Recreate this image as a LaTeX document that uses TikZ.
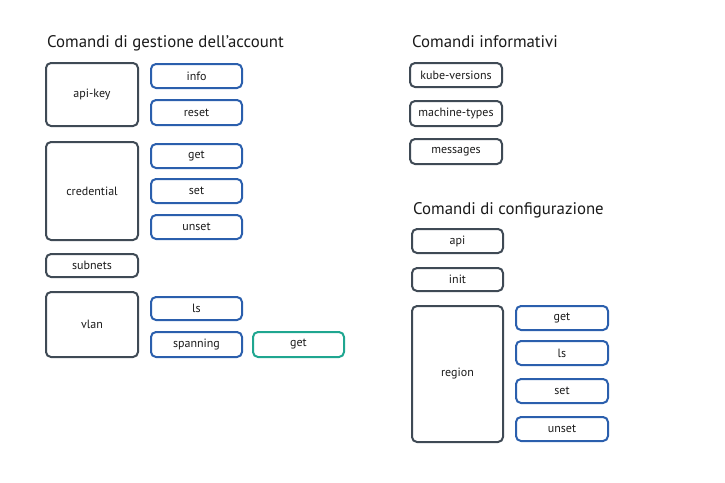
\documentclass[tikz,border=0pt]{standalone}
\usepackage{fontspec}
\setmainfont{PT Sans}
\definecolor{dk}{HTML}{3F4A55}
\definecolor{bl}{HTML}{2B5FAD}
\definecolor{tl}{HTML}{1FA690}
\definecolor{tx}{HTML}{1A1A1A}
\tikzset{
  base/.style={rounded corners=5pt, line width=2pt, inner sep=0pt, text=tx, font=\fontsize{12}{14}\selectfont},
  dkbox/.style={base, draw=dk},
  blbox/.style={base, draw=bl},
  tlbox/.style={base, draw=tl},
  ttl/.style={anchor=base west, inner sep=0pt, text=tx, font=\fontsize{16.8}{20}\selectfont}
}
\newcommand{\bx}[7][dkbox]{%
  \node[#1, minimum width={#5-#3-2}, minimum height={#6-#4-2}] (#2) at ({(#3+#5)/2},{(#4+#6)/2}) {#7};}
\begin{document}
\begin{tikzpicture}[x=1pt,y=-1pt]
\useasboundingbox (0,0) rectangle (725,482);
\node[ttl] (t1) at (47,47) {Comandi di gestione dell’account};
\node[ttl] (t2) at (412,47) {Comandi informativi};
\node[ttl] (t3) at (413,214) {Comandi di configurazione};
\bx{apikey}{45}{62}{139}{127}{api-key}
\bx[blbox]{info}{150}{63}{243}{89}{info}
\bx[blbox]{reset}{150}{99}{243}{126}{reset}
\bx{cred}{45}{141}{139}{241}{credential}
\bx[blbox]{cget}{150}{143}{243}{169}{get}
\bx[blbox]{cset}{150}{178}{243}{204}{set}
\bx[blbox]{cunset}{150}{214}{243}{240}{unset}
\bx{subnets}{45}{253}{139}{278}{subnets}
\bx{vlan}{45}{291}{139}{358}{vlan}
\bx[blbox]{vls}{150}{296}{243}{321}{ls}
\bx[blbox]{vspan}{150}{331}{243}{358}{spanning}
\bx[tlbox]{vget}{252}{331}{345}{358}{get}
\bx{kube}{409}{62}{503}{88}{kube-versions}
\bx{mach}{409}{100}{503}{127}{machine-types}
\bx{msg}{409}{138}{503}{165}{messages}
\bx{api}{411}{228}{504}{254}{api}
\bx{init}{411}{267}{504}{292}{init}
\bx{region}{411}{305}{504}{443}{region}
\bx[blbox]{rget}{515}{305}{609}{331}{get}
\bx[blbox]{rls}{515}{340}{609}{366}{ls}
\bx[blbox]{rset}{515}{378}{609}{404}{set}
\bx[blbox]{runset}{515}{416}{609}{442}{unset}
\end{tikzpicture}
\end{document}
